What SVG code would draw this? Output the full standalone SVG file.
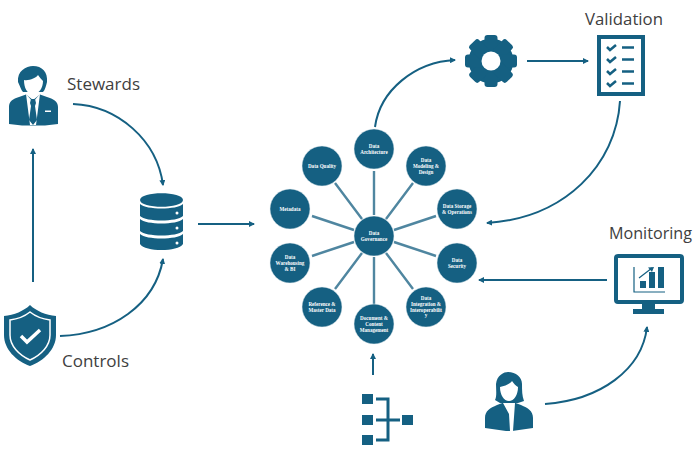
<svg xmlns="http://www.w3.org/2000/svg" width="700" height="466" viewBox="0 0 700 466">
<style>
.c{fill:none;stroke:#156082;stroke-width:2}
.s{stroke:#4f86a0;stroke-width:2.400;fill:none}
.f{fill:#156082}
.w{fill:#fff}
.l{font:16.500px "Open Sans","Noto Sans",sans-serif;fill:#404040}
.n circle{fill:#156082;stroke:#e4edf1;stroke-width:.5}
.n text{font:bold 5.100px "Liberation Serif",serif;fill:#fff;text-anchor:middle}
</style>
<defs>
<marker id="a" markerWidth="7" markerHeight="6" refX="5" refY="3" orient="auto" markerUnits="userSpaceOnUse"><path d="M0 0L6 3L0 6Z" fill="#156082"/></marker>
</defs>
<rect width="700" height="466" fill="#fff"/>
<g id="connectors">
<path class="c" marker-end="url(#a)" d="M73 104C118 106 157 140 163 185"/>
<path class="c" marker-end="url(#a)" d="M60 336C112 334 155 305 163 259"/>
<path class="c" marker-end="url(#a)" d="M33 282V149"/>
<path class="c" marker-end="url(#a)" d="M198 224H254"/>
<path class="c" marker-end="url(#a)" d="M375 127C380 90 415 62 455 60"/>
<path class="c" marker-end="url(#a)" d="M527 61H588"/>
<path class="c" marker-end="url(#a)" d="M620 101C616 165 565 218 487 223"/>
<path class="c" marker-end="url(#a)" d="M607 280H479"/>
<path class="c" marker-end="url(#a)" d="M545 404C600 400 642 370 647 327"/>
<path class="c" marker-end="url(#a)" d="M373 375V354"/>
<path class="s" d="M374 215V171M386 219L413 183M394 230L436 216M394 242L436 256M386 253L413 289M374 257V304M362 253L335 289M354 242L312 256M354 230L312 216M362 219L335 183"/>
</g>
<g id="data-governance" class="n"><circle cx="374" cy="236" r="20"/><text x="374" y="234.500">Data</text><text x="374" y="240.500">Governance</text></g>
<g id="data-architecture" class="n"><circle cx="374" cy="149" r="20"/><text x="374" y="147.500">Data</text><text x="374" y="153.500">Architecture</text></g>
<g id="data-modeling" class="n"><circle cx="426" cy="166" r="20"/><text x="426" y="161.500">Data</text><text x="426" y="167.500">Modeling &amp;</text><text x="426" y="173.500">Design</text></g>
<g id="data-storage" class="n"><circle cx="457" cy="209" r="20"/><text x="457" y="207.500">Data Storage</text><text x="457" y="213.500">&amp; Operations</text></g>
<g id="data-security" class="n"><circle cx="457" cy="263" r="20"/><text x="457" y="261.500">Data</text><text x="457" y="267.500">Security</text></g>
<g id="data-integration" class="n"><circle cx="426" cy="307" r="20"/><text x="426" y="300">Data</text><text x="426" y="305.500">Integration &amp;</text><text x="426" y="311.500">Interoperabilit</text><text x="426" y="317">y</text></g>
<g id="document-content" class="n"><circle cx="374" cy="324" r="20"/><text x="374" y="319.500">Document &amp;</text><text x="374" y="325.500">Content</text><text x="374" y="331.500">Management</text></g>
<g id="reference-master" class="n"><circle cx="322" cy="307" r="20"/><text x="322" y="305.500">Reference &amp;</text><text x="322" y="311.500">Master Data</text></g>
<g id="data-warehousing" class="n"><circle cx="290" cy="263" r="20"/><text x="290" y="258.500">Data</text><text x="290" y="264.500">Warehousing</text><text x="290" y="270.500">&amp; BI</text></g>
<g id="metadata" class="n"><circle cx="290" cy="209" r="20"/><text x="290" y="210.500">Metadata</text></g>
<g id="data-quality" class="n"><circle cx="322" cy="166" r="20"/><text x="322" y="167.500">Data Quality</text></g>

<g id="stewards">
<path class="f" d="M9 124V107C9 101 13 99 19 97L26 94.500L33 100L40 94.500L47 97C53 99 58 101 58 107V124L45 125.500H22Z"/>
<path class="w" d="M26 94L33 102L40 94L36 125H30Z"/>
<path class="f" d="M31 99H35L36 103L35 106L37 120L33 125L29 120L31 106L30 103Z"/>
<rect class="w" x="45" y="110.500" width="6" height="1.500"/>
<path class="f" d="M18 82C17 71 26 66 33 66C42 66 48 72 47 82C46 86 45 90 43 92H23C21 90 20 86 18 82Z"/>
<path class="w" d="M24 80C29 81 36 78 38 75C40 78 42 80 43 81C43 88 39 94 33 94C27 94 24 88 24 80Z"/>
<text class="l" x="67" y="90" textLength="73" lengthAdjust="spacingAndGlyphs">Stewards</text>
</g>
<g id="controls">
<path class="f" d="M30 305C36 311 46 315 56 316V335C56 349 44 361 30 366C16 361 4 349 4 335V316C14 315 24 311 30 305Z"/>
<path fill="none" stroke="#fff" stroke-width="1.500" d="M30 312C35 316 42 319 50 320V335C50 346 41 355 30 360C19 355 10 346 10 335V320C18 319 25 316 30 312Z"/>
<path fill="none" stroke="#fff" stroke-width="3.500" d="M21 336L27 342L40 330"/>
<text class="l" x="62" y="367" textLength="67" lengthAdjust="spacingAndGlyphs">Controls</text>
</g>
<g id="database">
<path class="f" d="M140 200C140 191 183 191 183 200C183 209 140 209 140 200Z"/>
<path class="f" d="M140 204C146 210 177 210 183 204V216C177 222 146 222 140 216Z"/>
<path class="f" d="M140 219C146 225 177 225 183 219V231C177 237 146 237 140 231Z"/>
<path class="f" d="M140 234C146 240 177 240 183 234V244C178 252 145 252 140 244Z"/>
<circle class="w" cx="177" cy="213" r="1.500"/><circle class="w" cx="177" cy="228" r="1.500"/><circle class="w" cx="177" cy="243" r="1.500"/>
</g>
<g id="gear">
<circle class="f" cx="491" cy="61" r="22.500"/>
<g class="f"><rect x="484.500" y="35" width="13" height="52" rx="3"/><rect x="484.500" y="35" width="13" height="52" rx="3" transform="rotate(45 491 61)"/><rect x="484.500" y="35" width="13" height="52" rx="3" transform="rotate(90 491 61)"/><rect x="484.500" y="35" width="13" height="52" rx="3" transform="rotate(135 491 61)"/></g>
<circle class="w" cx="491" cy="61" r="9.500"/>
</g>
<g id="validation">
<text class="l" x="585" y="25" textLength="78" lengthAdjust="spacingAndGlyphs">Validation</text>
<rect x="599" y="37" width="44" height="57" fill="#fff" stroke="#156082" stroke-width="4"/>
<path fill="none" stroke="#156082" stroke-width="2.500" d="M607 47L610 50L616 45M607 59L610 62L616 57M607 71L610 74L616 69M607 83L610 86L616 81M622 47.500H634M622 59.500H634M622 71.500H634M622 83.500H634"/>
</g>
<g id="monitoring">
<text class="l" x="609" y="239" textLength="83" lengthAdjust="spacingAndGlyphs">Monitoring</text>
<rect x="616" y="256" width="66" height="46" rx="2" fill="#fff" stroke="#156082" stroke-width="4"/>
<path class="f" d="M642 304H655V309H664V314H633V309H642Z"/>
<path class="f" d="M640 281H646V288H640ZM649 272H655V288H649ZM658 267H664V288H658Z"/>
<path fill="none" stroke="#156082" stroke-width="1.200" d="M634 267V292H665M639 278L652 268"/>
<path class="f" d="M654 267L648 267.500L652 272Z"/>
</g>
<g id="analyst">
<path class="f" d="M485 428V418C485 411 490 408 497 405L505 402L509 408L513 402L521 405C528 408 533 411 533 418V428L512 431H506Z"/>
<path class="w" d="M503 403H515L513 431H510L509 414Z"/>
<path class="f" d="M495 400C497 396 496 390 496 384C497 375 504 372 508 372C516 372 522 377 522 384C522 390 522 396 524 401L518 403H500Z"/>
<path class="w" d="M500 387C505 386 510 384 512 381C514 384 516 386 518 387C518 395 514 401 509 401C504 401 500 395 500 387Z"/>
</g>
<g id="hierarchy">
<path class="f" d="M362 394H373V404H362ZM362 415H373V425H362ZM362 435H373V445H362ZM402 415H413V425H402Z"/>
<path fill="none" stroke="#156082" stroke-width="3" d="M376 399H388V440H376M376 420H400"/>
</g>
</svg>
